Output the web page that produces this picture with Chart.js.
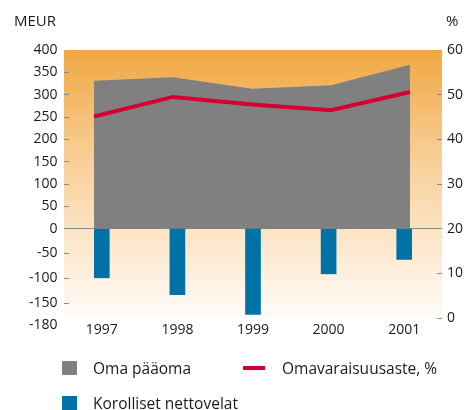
<!DOCTYPE html>
<html><head><meta charset="utf-8">
<script src="https://cdn.jsdelivr.net/npm/chart.js@4"></script>
<style>
html,body{margin:0;padding:0;background:#fff;}
#wrap{position:relative;width:466px;height:410px;font-family:"Open Sans",sans-serif;color:#1a1a1a;overflow:hidden;}
canvas{position:absolute;left:0;top:0;}
.t{position:absolute;white-space:nowrap;line-height:20px;}
.sw{position:absolute;}
</style></head><body>
<div id="wrap">
<canvas id="c" width="466" height="410"></canvas>
</div>
<script>
// ---- data ----
const years = ['1997', '1998', '1999', '2000', '2001'];
const equity = [331, 339, 313, 321, 367];          // Oma pääoma, MEUR
const netDebt = [-99, -133, -173, -91, -62];        // Korolliset nettovelat, MEUR
const equityRatio = [45.1, 49.5, 47.8, 46.5, 50.6]; // Omavaraisuusaste, %
const leftTicks = [400, 350, 300, 250, 200, 150, 100, 50, 0, -50, -100, -150, -180];
const rightTicks = [60, 50, 40, 30, 20, 10, 0];
const leftUnit = 'MEUR';
const rightUnit = '%';
const seriesNames = ['Oma pääoma', 'Omavaraisuusaste, %', 'Korolliset nettovelat'];

// ---- styles ----
const GREY = '#808080', RED = '#D6002F', BLUE = '#0072A6';
const ZERO_FRAC = 20 / 60; // where 0 MEUR sits on the % axis
const BOTTOM_LABEL_SHIFT = 7;

// Left axis: piecewise linear (positive and negative halves use different steps)
class SplitScale extends Chart.LinearScale {
  buildTicks() { return leftTicks.slice().reverse().map(v => ({ value: v })); }
  getPixelForValue(v) {
    if (v === null || v === undefined) return NaN;
    const d = v >= 0 ? ZERO_FRAC + (v / this.max) * (1 - ZERO_FRAC)
                     : ZERO_FRAC * (1 - v / this.min);
    return this.getPixelForDecimal(d);
  }
  getValueForPixel(p) {
    const d = this.getDecimalForPixel(p);
    return d >= ZERO_FRAC ? (d - ZERO_FRAC) / (1 - ZERO_FRAC) * this.max
                          : (1 - d / ZERO_FRAC) * this.min;
  }
  getPixelForTick(i) {
    const p = super.getPixelForTick(i);
    const t = this.ticks[i];
    return (t && t.value === this.min) ? p + BOTTOM_LABEL_SHIFT : p;
  }
}
SplitScale.id = 'split';
SplitScale.defaults = Chart.LinearScale.defaults;
Chart.register(SplitScale);

const bgPlugin = {
  id: 'bg',
  beforeDraw(chart) {
    const { ctx, chartArea: a } = chart;
    const g = ctx.createLinearGradient(0, a.top, 0, a.bottom);
    g.addColorStop(0, '#F0A742');
    g.addColorStop(0.35, '#F7C98C');
    g.addColorStop(0.67, '#FCE3C3');
    g.addColorStop(1, '#FFFCF9');
    ctx.save();
    ctx.fillStyle = g;
    ctx.fillRect(a.left, a.top, a.right - a.left, a.bottom - a.top);
    ctx.restore();
  }
};

const tickFont = { family: '"Open Sans", sans-serif', size: 14 };
const TICK = '#8a8a8a';

new Chart(document.getElementById('c'), {
  data: {
    labels: years,
    datasets: [
      { type: 'line', label: seriesNames[1], data: equityRatio.map((v, i) => ({ x: i, y: v })),
        xAxisID: 'x2', yAxisID: 'y1', borderColor: RED, borderWidth: 4, pointRadius: 0,
        tension: 0, fill: false, order: 0 },
      { type: 'bar', label: seriesNames[2], data: netDebt, xAxisID: 'x', yAxisID: 'y',
        backgroundColor: BLUE, barThickness: 15, grouped: false, order: 1 },
      { type: 'line', label: seriesNames[0], data: equity.map((v, i) => ({ x: i, y: v })),
        xAxisID: 'x2', yAxisID: 'y', borderWidth: 0, borderColor: GREY, backgroundColor: GREY,
        pointRadius: 0, tension: 0, fill: 'origin', order: 2 }
    ]
  },
  options: {
    responsive: false,
    animation: false,
    layout: { padding: { left: 0, right: 0, top: 50, bottom: 62 } },
    plugins: { legend: { display: false }, tooltip: { enabled: false } },
    scales: {
      x: {
        type: 'category', position: 'bottom', offset: true,
        grid: { display: false, drawTicks: false }, border: { display: false },
        ticks: { font: tickFont, color: '#1a1a1a', padding: 4, maxRotation: 0 },
        afterFit: s => { s.height = 30; }
      },
      x2: { type: 'linear', display: false, min: -0.38, max: 4.405 },
      y: {
        type: 'split', position: 'left', min: -180, max: 400,
        border: { display: false },
        grid: {
          drawOnChartArea: true, tickLength: -5, lineWidth: 1,
          color: c => (c.tick && c.tick.value === 0) ? TICK : 'rgba(0,0,0,0)',
          tickColor: c => (c.tick && (c.tick.value === 400 || c.tick.value === -180)) ? 'rgba(0,0,0,0)' : TICK
        },
        ticks: { font: tickFont, color: '#1a1a1a', padding: 11.5, autoSkip: false,
                 callback: v => String(v) },
        afterFit: s => { s.width = 64; }
      },
      y1: {
        type: 'linear', position: 'right', min: 0, max: 60,
        border: { display: false },
        grid: { drawOnChartArea: false, tickLength: -5,
                tickColor: c => (c.tick && c.tick.value === 60) ? 'rgba(0,0,0,0)' : TICK },
        afterBuildTicks: s => { s.ticks = rightTicks.slice().reverse().map(v => ({ value: v })); },
        ticks: { font: tickFont, color: '#1a1a1a', padding: 10, autoSkip: false,
                 callback: v => String(v) },
        afterFit: s => { s.width = 24; }
      }
    }
  },
  plugins: [bgPlugin]
});

// ---- header units and legend (HTML text) ----
const wrap = document.getElementById('wrap');
function addText(txt, left, top, size) {
  const d = document.createElement('div');
  d.className = 't'; d.textContent = txt;
  d.style.left = left + 'px'; d.style.top = top + 'px'; d.style.fontSize = size + 'px';
  wrap.appendChild(d);
}
function addSwatch(left, top, w, h, color) {
  const d = document.createElement('div');
  d.className = 'sw';
  Object.assign(d.style, { left: left + 'px', top: top + 'px', width: w + 'px', height: h + 'px', background: color });
  wrap.appendChild(d);
}
addText(leftUnit, 14, 10, 15);
addText(rightUnit, 446, 10, 15);
addSwatch(62, 361, 15, 14, GREY);
addText(seriesNames[0], 93, 358, 15.5);
addSwatch(243, 366, 22, 4, RED);
addText(seriesNames[1], 282, 358, 15.5);
addSwatch(62, 396, 15, 14, BLUE);
addText(seriesNames[2], 93, 393, 15.5);
</script>
</body></html>
